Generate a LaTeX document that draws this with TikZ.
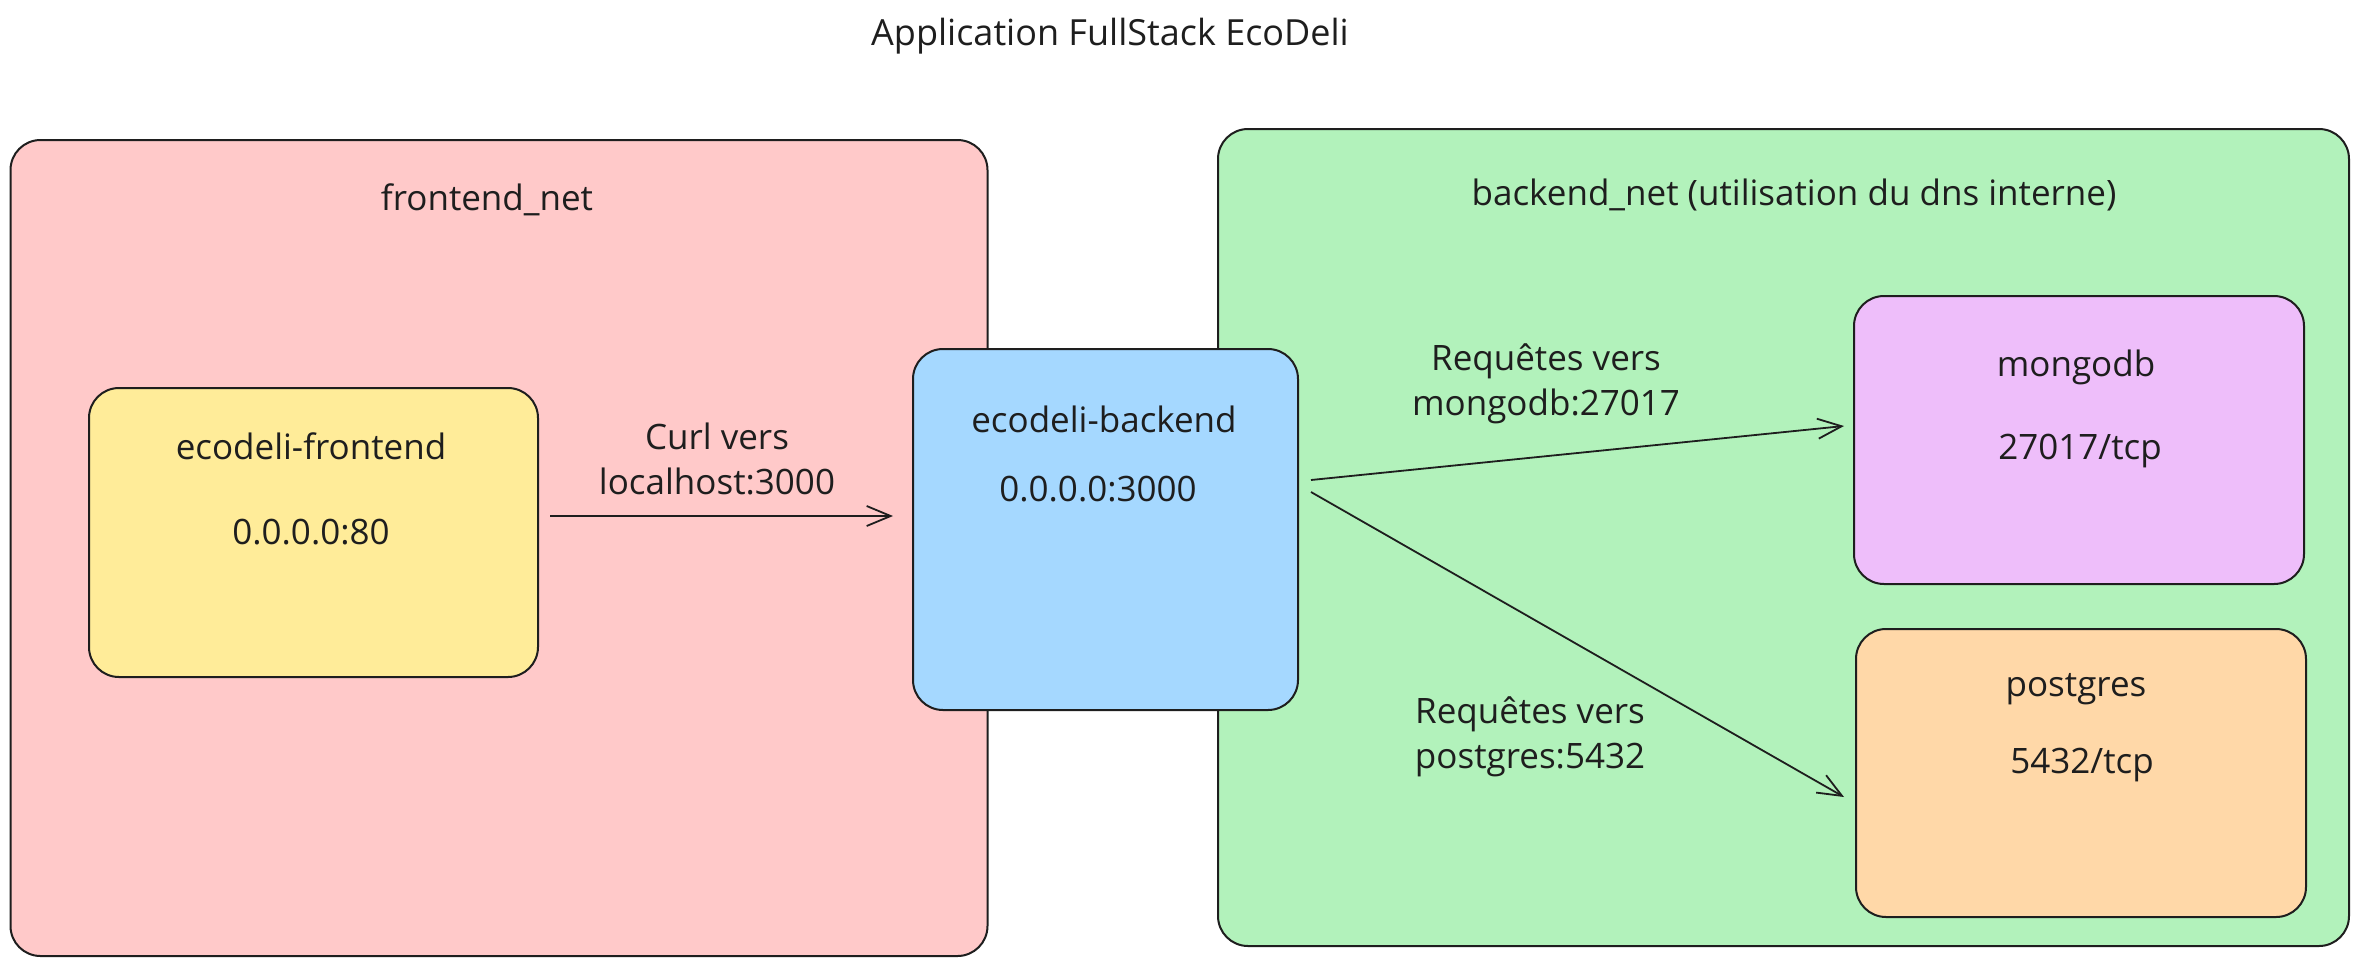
\documentclass[tikz,border=0pt]{standalone}
\usepackage{fontspec}
\setmainfont{Open Sans}
\usetikzlibrary{arrows.meta}
\definecolor{ink}{HTML}{1E1E1E}
\definecolor{netred}{HTML}{FFC9C9}
\definecolor{netgreen}{HTML}{B2F2BB}
\definecolor{boxyellow}{HTML}{FFEC99}
\definecolor{boxblue}{HTML}{A5D8FF}
\definecolor{boxpurple}{HTML}{EEBEFA}
\definecolor{boxorange}{HTML}{FFD8A8}
\tikzset{
  box/.style={draw=ink, line width=1pt, rounded corners=15pt, inner sep=0pt, outer sep=0pt},
  lbl/.style={inner sep=0pt, text=ink, font=\fontsize{17.5}{22.5}\selectfont, text height=12.6pt, text depth=0pt, align=center},
  mlbl/.style={inner sep=0pt, text=ink, font=\fontsize{17.5}{22.5}\selectfont, align=center},
  arr/.style={draw=ink, line width=0.9pt, -{Straight Barb[length=12pt,width=10pt,line width=0.9pt]}}
}
\begin{document}
\begin{tikzpicture}[x=0.5pt,y=-0.5pt]
\useasboundingbox (0,0) rectangle (2358,965);
\fill[white] (0,0) rectangle (2358,965);
% title
\node[lbl, font=\fontsize{18}{22}\selectfont] (title) at (1110,33) {Application FullStack EcoDeli};
% networks
\node[box, fill=netred, minimum width=488.5pt, minimum height=408pt] (fnet) at (499,548) {};
\node[box, fill=netgreen, minimum width=565.5pt, minimum height=408.5pt] (bnet) at (1783.5,537.5) {};
\node[lbl] (fnetl) at (487,198) {frontend\_net};
\node[lbl] (bnetl) at (1794,193) {backend\_net (utilisation du dns interne)};
% services
\node[box, fill=boxyellow, minimum width=224.5pt, minimum height=144.5pt] (fe) at (313.5,532.5) {};
\node[box, fill=boxblue, minimum width=192.5pt, minimum height=180.5pt] (be) at (1105.5,529.5) {};
\node[box, fill=boxpurple, minimum width=225pt, minimum height=144pt] (mg) at (2079,440) {};
\node[box, fill=boxorange, minimum width=225pt, minimum height=144pt] (pg) at (2081,773) {};
\node[lbl] (fe1) at (311,447) {ecodeli-frontend};
\node[lbl] (fe2) at (311,532) {0.0.0.0:80};
\node[lbl] (be1) at (1104,420) {ecodeli-backend};
\node[lbl] (be2) at (1098,489) {0.0.0.0:3000};
\node[lbl] (mg1) at (2076,364) {mongodb};
\node[lbl] (mg2) at (2080,447) {27017/tcp};
\node[lbl] (pg1) at (2076,684) {postgres};
\node[lbl] (pg2) at (2082,761) {5432/tcp};
% connectors
\draw[arr] ([shift={(12,-16.5)}]fe.east) -- ([shift={(-20,-13.5)}]be.west);
\draw[arr] ([shift={(13,-49.5)}]be.east) -- ([shift={(-10,-14)}]mg.west);
\draw[arr] ([shift={(13,-37.5)}]be.east) -- ([shift={(-12,24)}]pg.west);
% connector labels
\node[mlbl] (l1) at (717,459) {Curl vers\\localhost:3000};
\node[mlbl] (l2) at (1546,384) {Requêtes vers\\mongodb:27017};
\node[mlbl] (l3) at (1530,737) {Requêtes vers\\postgres:5432};
\end{tikzpicture}
\end{document}
